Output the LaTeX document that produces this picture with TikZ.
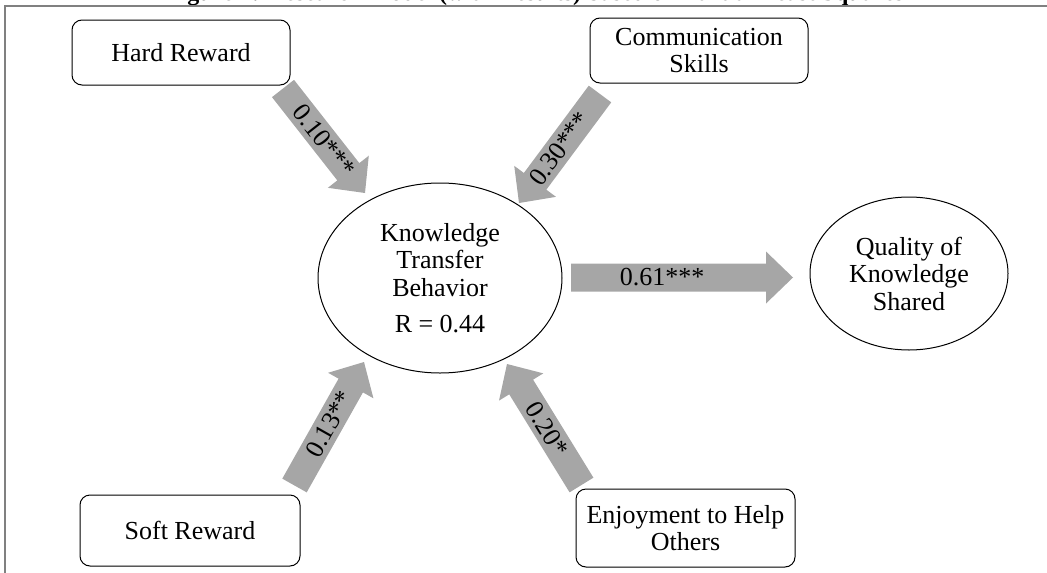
\documentclass[tikz,border=0pt]{standalone}
\usepackage{fontspec}
\setmainfont{Liberation Serif}
\usetikzlibrary{calc,shapes.geometric}
\definecolor{agray}{RGB}{166,166,166}
\definecolor{framegray}{RGB}{128,128,128}
\tikzset{
  every node/.style={font=\fontsize{26}{27.5}\selectfont},
  factor/.style={draw=black, line width=1pt, rounded corners=10pt, fill=white, align=center, inner sep=0pt},
  construct/.style={draw=black, line width=1pt, ellipse, fill=white, align=center, inner sep=0pt},
  lbl/.style={inner sep=0pt},
  frameline/.style={draw=framegray, line width=1.5pt},
}
\newcommand\fatarrow[5]{% #1 tail, #2 tip, #3 label, #4 label pos, #5 name
  \coordinate (#5b) at ($(#2)!27pt!(#1)$);
  \fill[agray] ($(#1)!14pt!90:(#2)$) -- ($(#5b)!14pt!90:(#2)$) -- ($(#5b)!26pt!90:(#2)$) -- (#2)
     -- ($(#5b)!26pt!-90:(#2)$) -- ($(#5b)!14pt!-90:(#2)$) -- ($(#1)!14pt!-90:(#2)$) -- cycle;
  \path (#1) -- (#2) node[pos=#4, sloped, lbl] (#5lbl) {#3};
}
\begin{document}
\begin{tikzpicture}[x=1pt, y=-1pt]
\useasboundingbox (0,0) rectangle (1047,573);
% caption (mostly cut off at the top)
\node[font=\bfseries\fontsize{24}{26}\selectfont, anchor=base] (cap) at (535,0.5) {Figure 4: Research Model (with Results) based on Partial Least Squares};
% frame
\draw[frameline] (1047,6) -- (5,6) -- (5,573);
% nodes
\node[factor, minimum width=218pt, minimum height=65pt] (hard) at (181,52.5) {Hard Reward};
\node[factor, minimum width=218pt, minimum height=65pt] (comm) at (699,50.5) {Communication\\Skills};
\node[factor, minimum width=220pt, minimum height=71pt] (soft) at (190,530.5) {Soft Reward};
\node[factor, minimum width=219pt, minimum height=78pt] (enjoy) at (685.5,528) {Enjoyment to Help\\Others};
\node[construct, minimum width=244pt, minimum height=190pt] (ktb) at (440,278) {Knowledge\\Transfer\\Behavior\\[9pt]R = 0.44};
\node[construct, minimum width=198pt, minimum height=153pt] (qks) at (909,273.5) {Quality of\\Knowledge\\Shared};
% arrow end points
\coordinate (hrT) at (283,88.5);   \coordinate (hrP) at (365,193);
\coordinate (csT) at (600,94);     \coordinate (csP) at (519,203);
\coordinate (srT) at (294.5,485.5);\coordinate (srP) at (364,362);
\coordinate (ejT) at (581.5,485);  \coordinate (ejP) at (507,364);
\coordinate (qkT) at (571,277.5);  \coordinate (qkP) at (793,277.5);
% arrows
\fatarrow{hrT}{hrP}{0.10***}{0.5}{hr}
\fatarrow{csT}{csP}{0.30***}{0.5}{cs}
\fatarrow{srT}{srP}{0.13**}{0.5}{sr}
\fatarrow{ejT}{ejP}{0.20*}{0.46}{ej}
\fatarrow{qkT}{qkP}{0.61***}{0.41}{qk}
\end{tikzpicture}
\end{document}
